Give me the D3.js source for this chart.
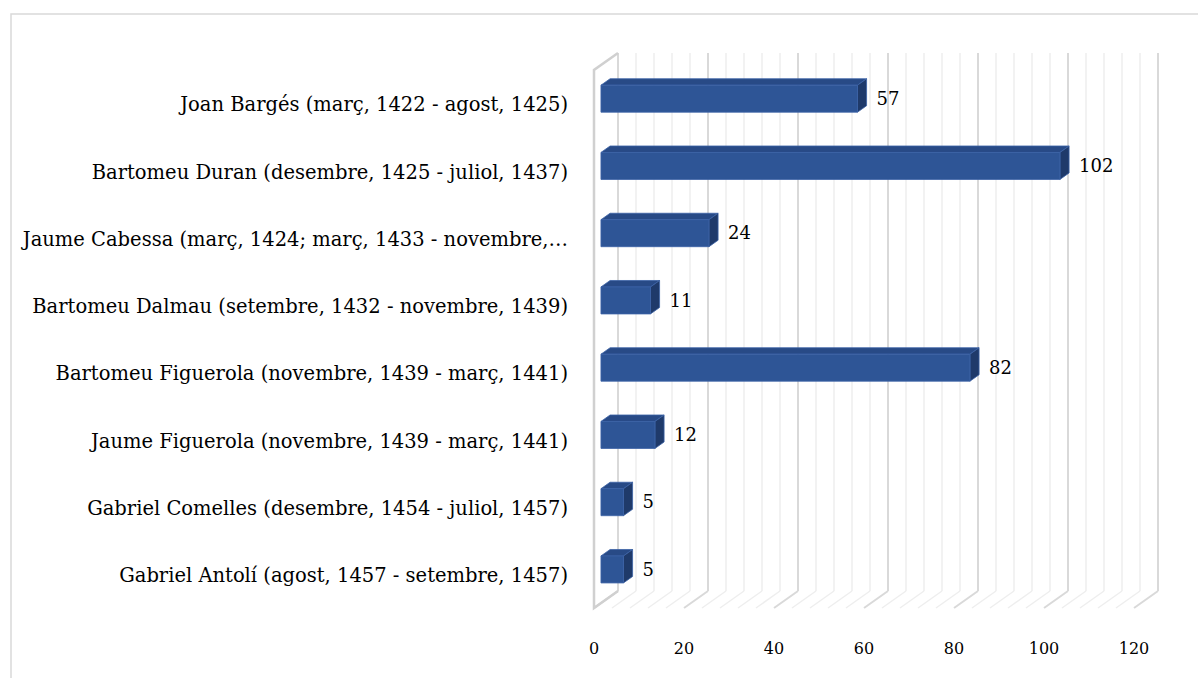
<!DOCTYPE html>
<html>
<head>
<meta charset="utf-8">
<script src="https://cdn.jsdelivr.net/npm/d3@7"></script>
<style>
  body { margin: 0; background: #fff; }
  text { font-family: "DejaVu Serif", "Liberation Serif", serif; fill: #000; }
</style>
</head>
<body>
<svg id="chart" width="1198" height="678"></svg>
<script>
// data
var categories = [
    "Joan Bargés (març, 1422 - agost, 1425)",
    "Bartomeu Duran (desembre, 1425 - juliol, 1437)",
    "Jaume Cabessa (març, 1424; març, 1433 - novembre,…",
    "Bartomeu Dalmau (setembre, 1432 - novembre, 1439)",
    "Bartomeu Figuerola (novembre, 1439 - març, 1441)",
    "Jaume Figuerola (novembre, 1439 - març, 1441)",
    "Gabriel Comelles (desembre, 1454 - juliol, 1457)",
    "Gabriel Antolí (agost, 1457 - setembre, 1457)"
];
var values = [57, 102, 24, 11, 82, 12, 5, 5];
var tickValues = [0, 20, 40, 60, 80, 100, 120];

var svg = d3.select('#chart');

// outer frame
svg.append('rect')
    .attr('x', 11).attr('y', 14)
    .attr('width', 1200).attr('height', 700)
    .attr('fill', 'none')
    .attr('stroke', '#d9d9d9')
    .attr('stroke-width', 1.5);

// front plane scales
var x = d3.scaleLinear().domain([0, 120]).range([594, 1134]);
var y = d3.scaleBand().domain(categories).range([70, 608]);

// depth offset of the back wall
var depthX = 24, depthY = -17;
function P(v, yy, f) {
    return [x(v) + f * depthX, yy + f * depthY];
}

// gridlines on back wall and floor
var grid = d3.range(0, 121, 4);
var g = svg.append('g');
g.selectAll('.wall').data(grid).enter().append('line')
    .attr('x1', function(d) { return x(d) + depthX; })
    .attr('x2', function(d) { return x(d) + depthX; })
    .attr('y1', 70 + depthY)
    .attr('y2', 608 + depthY)
    .attr('stroke', function(d) { return d % 20 === 0 ? '#d9d9d9' : '#eeeeee'; })
    .attr('stroke-width', function(d) { return d % 20 === 0 ? 2 : 1.5; });
g.selectAll('.floor').data(grid).enter().append('line')
    .attr('x1', function(d) { return x(d) + depthX; })
    .attr('y1', 608 + depthY)
    .attr('x2', function(d) { return x(d); })
    .attr('y2', 608)
    .attr('stroke', function(d) { return d % 20 === 0 ? '#d9d9d9' : '#eeeeee'; })
    .attr('stroke-width', function(d) { return d % 20 === 0 ? 2 : 1.5; });

// left wall edge
svg.append('path')
    .attr('d', 'M' + [x(0) + depthX, 70 + depthY] + 'L' + [x(0), 70] + 'L' + [x(0), 608] + 'L' + [x(0) + depthX, 608 + depthY])
    .attr('fill', 'none')
    .attr('stroke', '#d0d0d0')
    .attr('stroke-width', 2.5);

// 3d bars
var f1 = 0.29, f2 = 0.67;
var half = 13.5;
var bars = svg.selectAll('.bar').data(values).enter().append('g');

function poly(pts) { return 'M' + pts.join('L') + 'Z'; }

bars.append('path')
    .attr('d', function(d, i) {
        var c = y(categories[i]) + y.bandwidth() / 2;
        return poly([P(0, c - half, f1), P(d, c - half, f1), P(d, c - half, f2), P(0, c - half, f2)]);
    })
    .attr('fill', '#284a86')
    .attr('stroke', '#3b62a6').attr('stroke-width', 0.8);

bars.append('path')
    .attr('d', function(d, i) {
        var c = y(categories[i]) + y.bandwidth() / 2;
        return poly([P(d, c - half, f1), P(d, c + half, f1), P(d, c + half, f2), P(d, c - half, f2)]);
    })
    .attr('fill', '#1f3a6a')
    .attr('stroke', '#3b62a6').attr('stroke-width', 0.8);

bars.append('path')
    .attr('d', function(d, i) {
        var c = y(categories[i]) + y.bandwidth() / 2;
        return poly([P(0, c - half, f1), P(d, c - half, f1), P(d, c + half, f1), P(0, c + half, f1)]);
    })
    .attr('fill', '#2e5596')
    .attr('stroke', '#3b62a6').attr('stroke-width', 0.8);

// value labels
bars.append('text')
    .attr('x', function(d) { return P(d, 0, f2)[0] + 10; })
    .attr('y', function(d, i) { return y(categories[i]) + y.bandwidth() / 2 - 5; })
    .attr('dy', '0.35em')
    .attr('font-size', 18)
    .text(function(d) { return d; });

// category labels
svg.selectAll('.cat').data(categories).enter().append('text')
    .attr('x', 568)
    .attr('y', function(d) { return y(d) + y.bandwidth() / 2 + 1; })
    .attr('dy', '0.35em')
    .attr('text-anchor', 'end')
    .attr('font-size', 19.5)
    .text(function(d) { return d; });

// value axis labels
svg.selectAll('.tick').data(tickValues).enter().append('text')
    .attr('x', function(d) { return x(d); })
    .attr('y', 648)
    .attr('dy', '0.35em')
    .attr('text-anchor', 'middle')
    .attr('font-size', 16)
    .text(function(d) { return d; });
</script>
</body>
</html>
